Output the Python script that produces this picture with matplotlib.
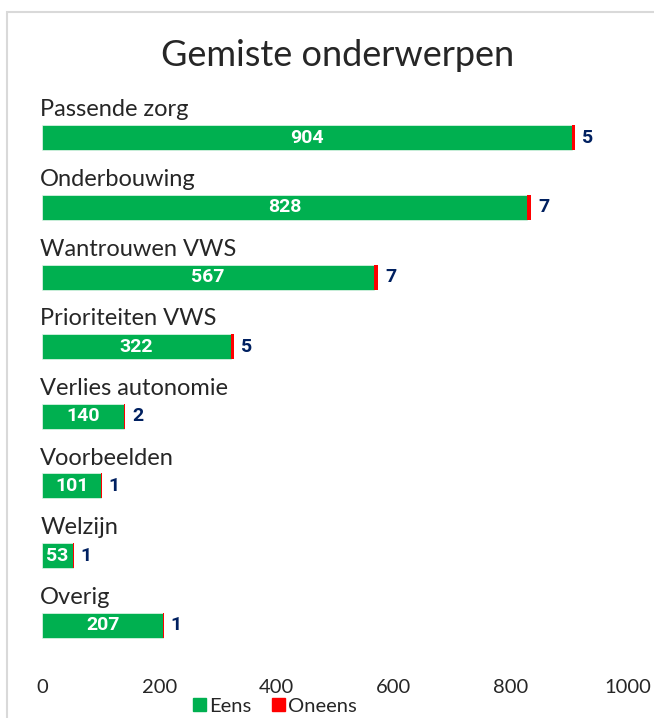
import matplotlib.pyplot as plt
from matplotlib.patches import Patch, Rectangle

categories = ["Passende zorg", "Onderbouwing", "Wantrouwen VWS", "Prioriteiten VWS",
              "Verlies autonomie", "Voorbeelden", "Welzijn", "Overig"]
eens = [904, 828, 567, 322, 140, 101, 53, 207]
oneens = [5, 7, 7, 5, 2, 1, 1, 1]
x_ticks = [0, 200, 400, 600, 800, 1000]

green = "#00B050"
red = "#FF0000"
navy = "#002060"
txt = "#262626"
font_main = ["Lato", "DejaVu Sans"]
font_num = ["Liberation Sans Narrow", "Roboto", "DejaVu Sans"]

fig = plt.figure(figsize=(6.54, 7.18), dpi=100)
ax = fig.add_axes([42 / 654, 1 - 660 / 718, (628 - 42) / 654, (660 - 103) / 718])

ypos = list(range(len(categories)))
h = 0.36
ax.barh(ypos, eens, height=h, color=green, edgecolor="#e6f7ec", linewidth=0.5)
ax.barh(ypos, oneens, left=eens, height=h, color=red, linewidth=0)

for y, cat, e, o in zip(ypos, categories, eens, oneens):
    ax.text(-3, y - 0.40, cat, ha="left", va="center", fontsize=17,
            color=txt, family=font_main)
    ax.text(e / 2, y, str(e), ha="center", va="center", fontsize=14,
            fontweight="bold", color="white", family=font_num)
    ax.annotate(str(o), (e + o, y), xytext=(5, 0), textcoords="offset points",
                ha="left", va="center", fontsize=14, fontweight="bold",
                color=navy, family=font_num)

ax.set_xlim(0, 1000)
ax.set_ylim(len(categories) - 0.5, -0.5)
ax.set_xticks(x_ticks)
ax.set_xticklabels([str(t) for t in x_ticks], fontsize=14.5, color=txt, family=font_main)
ax.tick_params(axis="x", length=0, pad=14)
ax.set_yticks([])
for s in ax.spines.values():
    s.set_visible(False)

fig.text(338 / 654, 1 - 55 / 718, "Gemiste onderwerpen", ha="center", va="center",
         fontsize=26, color=txt, family=font_main)

handles = [Patch(color=green, label="Eens"), Patch(color=red, label="Oneens")]
leg = fig.legend(handles=handles, loc="center", bbox_to_anchor=(275 / 654, 1 - 706 / 718),
                 ncol=2, frameon=False, fontsize=14.5, handlelength=0.65, handleheight=0.65,
                 handletextpad=0.15, columnspacing=1.0, borderaxespad=0, borderpad=0)
for t in leg.get_texts():
    t.set_color(txt)
    t.set_family(font_main)

fig.patches.append(Rectangle((7 / 654, -0.1), 1.2, 1.1 - 12 / 718, transform=fig.transFigure,
                             fill=False, edgecolor="#d9d9d9", linewidth=1.5))

fig.savefig("out.png", dpi=100)
